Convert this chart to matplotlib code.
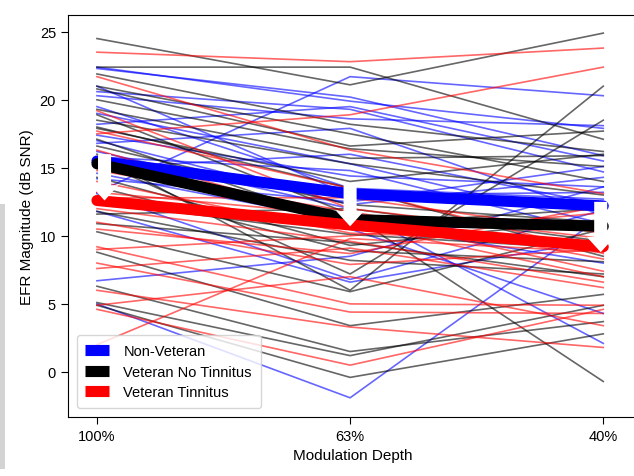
import numpy as np
import matplotlib.pyplot as plt
from matplotlib.patches import Rectangle

plt.rcParams['font.family'] = ['Liberation Sans', 'DejaVu Sans']

depths = ['100%', '63%', '40%']

# individual subjects: values at 100%, 63%, 40%
non_vet = [
    [22.4, 19.9, 17.9], [22.3, 20.2, 15.9], [20.6, 19.3, 14.7], [20.3, 18.6, 18.1],
    [19.5, 13.5, 12.7], [18.2, 19.5, 15.5], [17.4, 14.4, 13.6], [16.8, 17.9, 11.5],
    [13.2, 21.7, 20.3], [15.8, 14.8, 10.2], [14.2, 12.5, 15.1], [13.1, 6.8, 11.9],
    [11.8, 6.6, 9.7], [5.0, -1.9, 11.5], [6.7, 8.5, 13.6], [14.6, 11.0, 8.0],
    [12.8, 10.5, 4.3], [16.2, 12.0, 2.1], [15.0, 16.0, 12.3], [21.0, 13.0, 13.2],
    [17.0, 12.3, 14.3], [19.0, 15.3, 10.9],
]
vet_no_tin = [
    [24.5, 21.1, 24.9], [22.4, 22.4, 17.1], [21.9, 18.2, 16.2], [21.0, 17.5, 14.0],
    [20.8, 16.6, 17.7], [19.3, 15.7, 15.9], [18.9, 11.6, -0.7], [18.5, 15.3, 13.0],
    [17.9, 14.0, 16.0], [17.1, 10.8, 12.0], [16.0, 6.0, 21.0], [15.5, 7.2, 18.5],
    [14.3, 9.3, 11.2], [13.6, 8.9, 8.1], [11.8, 8.2, 7.2], [11.6, 12.0, 9.6],
    [10.9, 9.5, 7.0], [10.3, 5.9, 10.5], [8.8, 3.4, 5.7], [6.3, 1.5, 3.7],
    [5.1, 1.2, 4.9], [4.9, -0.4, 2.8], [20.0, 16.4, 15.1], [16.6, 12.3, 11.0],
    [12.5, 10.1, 9.0], [18.0, 13.5, 8.5],
]
vet_tin = [
    [23.5, 22.8, 23.8], [17.5, 18.9, 22.4], [21.7, 16.3, 13.1], [19.2, 12.0, 9.8],
    [17.7, 13.5, 8.7], [16.3, 11.0, 10.5], [14.0, 10.2, 9.5], [13.2, 11.5, 7.4],
    [12.0, 9.6, 6.6], [11.0, 7.9, 9.0], [9.0, 10.0, 11.7], [9.2, 5.0, 4.9],
    [7.6, 9.1, 6.2], [6.0, 3.3, 1.8], [4.9, 7.0, 3.4], [4.6, 0.5, 4.6],
    [10.5, 8.7, 12.2], [12.8, 12.8, 10.2], [8.0, 4.4, 4.3], [14.8, 11.8, 8.3],
    [2.0, 9.8, 8.8], [15.0, 10.9, 7.0],
]

# group means
mean_non_vet = [15.5, 13.1, 12.2]
mean_vet_no_tin = [15.3, 11.2, 10.7]
mean_vet_tin = [12.6, 10.8, 9.2]

# arrows (start, end) per depth
arrow_x = [0.03, 1.0, 1.99]
arrow_top = [16.0, 13.8, 12.5]
arrow_tip = [12.6, 10.7, 8.8]

x = np.arange(len(depths))
fig = plt.figure(figsize=(6.34, 4.77), dpi=100)
ax = fig.add_axes([0.107, 0.124, 0.898, 0.843])

for vals in non_vet:
    ax.plot(x, vals, color='blue', alpha=0.6, lw=1.2)
for vals in vet_no_tin:
    ax.plot(x, vals, color='black', alpha=0.6, lw=1.2)
for vals in vet_tin:
    ax.plot(x, vals, color='red', alpha=0.6, lw=1.2)

ax.plot(x, mean_non_vet, color='blue', lw=8, solid_capstyle='round', label='Non-Veteran')
ax.plot(x, mean_vet_no_tin, color='black', lw=8, solid_capstyle='round', label='Veteran No Tinnitus')
ax.plot(x, mean_vet_tin, color='red', lw=8, solid_capstyle='round', label='Veteran Tinnitus')

for xa, y0, y1 in zip(arrow_x, arrow_top, arrow_tip):
    ax.annotate('', xy=(xa, y1), xytext=(xa, y0),
                arrowprops=dict(arrowstyle='simple,head_width=1.0,head_length=0.55,tail_width=0.47',
                                mutation_scale=20, color='white', lw=0,
                                shrinkA=0, shrinkB=0))

ax.set_xlim(-0.115, 2.134)
ax.set_ylim(-3.3, 26.25)
ax.set_xticks(x)
ax.set_xticklabels(depths)
ax.set_yticks([0, 5, 10, 15, 20, 25])
ax.tick_params(direction='out', length=5, labelsize=10.5)
ax.set_xlabel('Modulation Depth', fontsize=11)
ax.set_ylabel('EFR Magnitude (dB SNR)', fontsize=11)
leg = ax.legend(loc='lower left', fontsize=10.5, handlelength=1.6, borderpad=0.6,
                handletextpad=1.0, labelspacing=0.45, borderaxespad=0.6)
for h in leg.get_lines():
    h.set_solid_capstyle('butt')

fig.patches.append(Rectangle((0, 0.015), 0.008, 0.555, transform=fig.transFigure,
                             facecolor='#d3d3d3', edgecolor='none'))

fig.savefig('out.png', dpi=100)
